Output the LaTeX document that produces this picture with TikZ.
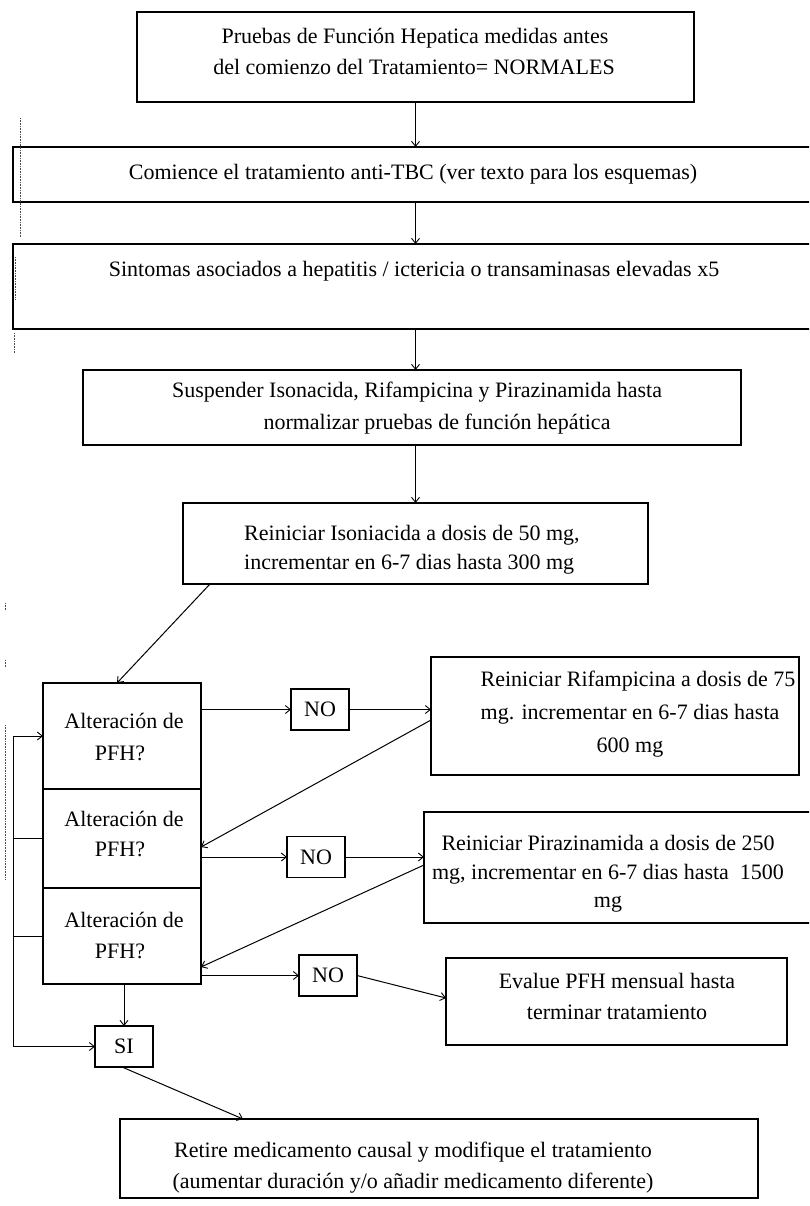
\documentclass[tikz,border=0pt]{standalone}
\usepackage{fontspec}
\setmainfont{Liberation Serif}
\usetikzlibrary{arrows.meta}
\begin{document}
\begin{tikzpicture}[x=1pt,y=-1pt,
  box/.style={draw, line width=1.2pt, inner sep=0pt, outer sep=0pt},
  txt/.style={font=\fontsize{22}{31}\selectfont, inner sep=0pt, anchor=base},
  small/.style={box, font=\fontsize{22}{26}\selectfont, minimum width=58pt, minimum height=41pt},
  arr/.style={line width=1pt, -{Straight Barb[length=5pt,width=8pt,line width=0.9pt]}},
  ln/.style={line width=1pt},
  speck/.style={line width=0.6pt, densely dotted, black!70}]
\clip (0,0) rectangle (809,1206);
\fill[white] (0,0) rectangle (809,1206);
% boxes
\node[box, minimum width=557pt, minimum height=90pt] (b1) at (415.5,57) {};
\node[box, minimum width=802pt, minimum height=55pt] (b2) at (414,174.5) {};
\node[box, minimum width=802pt, minimum height=85pt] (b3) at (414,286.5) {};
\node[box, minimum width=658pt, minimum height=75pt] (b4) at (412,407.5) {};
\node[box, minimum width=465pt, minimum height=81pt] (b5) at (415.5,543.5) {};
\node[box, minimum width=158pt, minimum height=106pt] (alt1) at (122,736) {};
\node[box, minimum width=158pt, minimum height=99pt] (alt2) at (122,838.5) {};
\node[box, minimum width=158pt, minimum height=96pt] (alt3) at (122,936) {};
\node[small] (no1) at (320,709.5) {NO};
\node[small] (no2) at (316,857) {NO};
\node[small] (no3) at (328,975.5) {NO};
\node[small] (si) at (124,1046.5) {SI};
\node[box, minimum width=368pt, minimum height=118pt] (rif) at (615,716) {};
\node[box, minimum width=391pt, minimum height=111pt] (pir) at (619.5,867.5) {};
\node[box, minimum width=341pt, minimum height=87pt] (eva) at (616.5,1001.5) {};
\node[box, minimum width=638pt, minimum height=79pt] (fin) at (439,1158.5) {};
% texts
\node[txt] (t1a) at (415,44) {Pruebas de Función Hepatica medidas antes};
\node[txt] (t1b) at (414,75) {del comienzo del Tratamiento= NORMALES};
\node[txt] (t2) at (413,180) {Comience el tratamiento anti-TBC (ver texto para los esquemas)};
\node[txt] (t3) at (414,276) {Sintomas asociados a hepatitis / ictericia o transaminasas elevadas x5};
\node[txt] (t4a) at (417,397) {Suspender Isonacida, Rifampicina y Pirazinamida hasta};
\node[txt] (t4b) at (437,429) {normalizar pruebas de función hepática};
\node[txt, anchor=base west] (t5a) at (244,540) {Reiniciar Isoniacida a dosis de 50 mg,};
\node[txt, anchor=base west] (t5b) at (244,569) {incrementar en 6-7 dias hasta 300 mg};
\node[txt] (a1a) at (124,728) {Alteración de};
\node[txt] (a1b) at (120,760) {PFH?};
\node[txt] (a2a) at (124,826) {Alteración de};
\node[txt] (a2b) at (120,856) {PFH?};
\node[txt] (a3a) at (124,927) {Alteración de};
\node[txt] (a3b) at (120,958) {PFH?};
\node[txt] (r1) at (638,686) {Reiniciar Rifampicina a dosis de 75};
\node[txt] (r2) at (630,719) {mg. incrementar en 6-7 dias hasta};
\node[txt] (r3) at (630,752) {600 mg};
\node[txt] (p1) at (608,850) {Reiniciar Pirazinamida a dosis de 250};
\node[txt] (p2) at (608,879) {mg, incrementar en 6-7 dias hasta\ \ 1500};
\node[txt] (p3) at (608,907) {mg};
\node[txt] (e1) at (617,988) {Evalue PFH mensual hasta};
\node[txt] (e2) at (617,1019) {terminar tratamiento};
\node[txt] (f1) at (413,1157) {Retire medicamento causal y modifique el tratamiento};
\node[txt] (f2) at (413,1188) {(aumentar duración y/o añadir medicamento diferente)};
% connectors
\draw[arr] (b1.south) -- (b1.south |- b2.north);
\draw[arr] (b2.south -| b1.south) -- (b3.north -| b1.south);
\draw[arr] (b3.south -| b1.south) -- (b4.north -| b1.south);
\draw[arr] (b4.south -| b1.south) -- (b5.north -| b1.south);
\draw[arr] ([xshift=27pt]b5.south west) -- ([xshift=-5pt]alt1.north);
\draw[arr] (alt1.east |- no1.west) -- (no1.west);
\draw[arr] (no1.east) -- (no1.east -| rif.west);
\draw[arr] ([yshift=-4pt]rif.west) -- ([yshift=-8.5pt]alt2.east);
\draw[arr] (alt2.east |- no2.west) -- (no2.west);
\draw[arr] (no2.east) -- (no2.east -| pir.west);
\draw[arr] ([yshift=2.5pt]pir.west) -- ([yshift=-31pt]alt3.east);
\draw[arr] (alt3.east |- no3.west) -- (no3.west);
\draw[arr] (no3.east) -- ([yshift=3.5pt]eva.west);
\draw[arr] (si.north |- alt3.south) -- (si.north);
\draw[arr] ([xshift=-2pt]si.south) -- ([xshift=-196pt]fin.north);
% left loop
\coordinate (loopx) at (13,0);
\draw[ln] (loopx |- alt1.west) -- (loopx |- si.west);
\draw[arr] (loopx |- alt1.west) -- (alt1.west);
\draw[arr] (loopx |- si.west) -- (si.west);
\draw[ln] (alt2.west) -- (loopx |- alt2.west);
\draw[ln] (alt3.west) -- (loopx |- alt3.west);
% scan specks along the left margin
\draw[speck] (20,118) -- (20,237);
\draw[speck] (15,257) -- (15,300);
\draw[speck] (14,333) -- (14,353);
\draw[speck] (5,603) -- (5,611);
\draw[speck] (5,660) -- (5,667);
\draw[speck] (5,725) -- (5,880);
\end{tikzpicture}
\end{document}
